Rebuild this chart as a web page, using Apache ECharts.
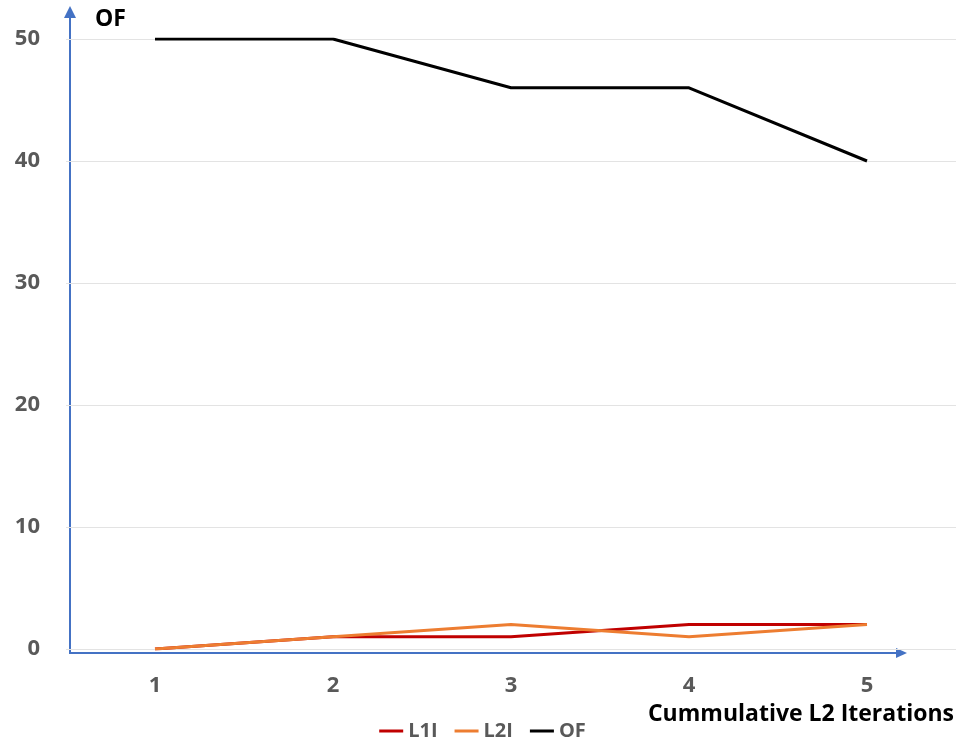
<!DOCTYPE html>
<html><head><meta charset="utf-8">
<script src="https://cdn.jsdelivr.net/npm/echarts@6/dist/echarts.min.js"></script>
<style>html,body{margin:0;padding:0;background:#fff}#c{width:965px;height:744px}</style>
</head><body><div id="c"></div>
<script>
const categories = ['1','2','3','4','5'];
const l1i = [0,1,1,2,2];
const l2i = [0,1,2,1,2];
const of = [50,50,46,46,40];
const yTicks = [0,10,20,30,40,50];

const chart = echarts.init(document.getElementById('c'));
const font = '"Open Sans", "Noto Sans", sans-serif';
chart.setOption({
  animation:false,
  textStyle:{fontFamily:font},
  grid:{left:66,right:9,top:39,bottom:95},
  title:[
    {text:'OF',left:90,top:3,textStyle:{fontFamily:font,fontSize:23,fontWeight:'bold',color:'#000'}},
    {text:'Cummulative L2 Iterations',right:6,top:698,textStyle:{fontFamily:font,fontSize:23,fontWeight:'bold',color:'#000'}}
  ],
  legend:{bottom:-2,left:'center',itemWidth:24,itemHeight:3,itemGap:17,icon:'rect',
    textStyle:{fontFamily:font,fontSize:20,fontWeight:'bold',color:'#595959'},
    data:['L1I','L2I','OF']},
  xAxis:{type:'category',data:categories,boundaryGap:true,
    axisLine:{show:false},axisTick:{show:false},
    axisLabel:{fontFamily:font,fontSize:22,fontWeight:'bold',color:'#595959',margin:26}},
  yAxis:{type:'value',min:0,max:50,interval:10,
    axisLine:{show:false},axisTick:{show:false},
    axisLabel:{fontFamily:font,fontSize:22,fontWeight:'bold',color:'#595959',margin:26,
      formatter:v=>yTicks.includes(v)?String(v):''},
    splitLine:{lineStyle:{color:'#e3e3e3',width:1}}},
  graphic:[
    {type:'line',shape:{x1:70,y1:653,x2:70,y2:14},style:{stroke:'#4472C4',lineWidth:2}},
    {type:'polygon',shape:{points:[[64,18],[76,18],[70,6]]},style:{fill:'#4472C4'}},
    {type:'line',shape:{x1:69,y1:653,x2:898,y2:653},style:{stroke:'#4472C4',lineWidth:2}},
    {type:'polygon',shape:{points:[[896,648],[896,658],[907,653]]},style:{fill:'#4472C4'}}
  ],
  series:[
    {name:'L1I',type:'line',data:l1i,symbol:'none',lineStyle:{color:'#C00000',width:3},itemStyle:{color:'#C00000'}},
    {name:'L2I',type:'line',data:l2i,symbol:'none',lineStyle:{color:'#ED7D31',width:3},itemStyle:{color:'#ED7D31'}},
    {name:'OF',type:'line',data:of,symbol:'none',lineStyle:{color:'#000000',width:3},itemStyle:{color:'#000000'}}
  ]
});
</script></body></html>
